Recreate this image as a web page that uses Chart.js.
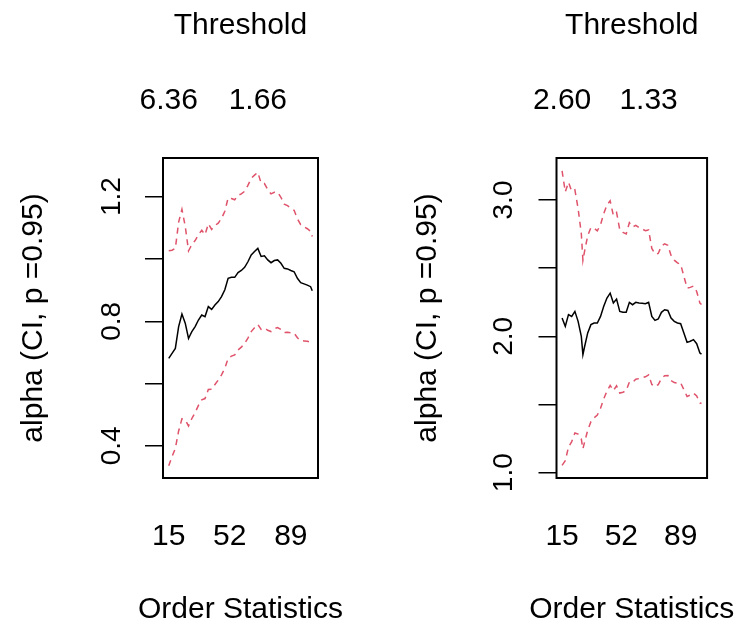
<!DOCTYPE html>
<html>
<head>
<meta charset="utf-8">
<script src="https://cdn.jsdelivr.net/npm/chart.js@4.4.1/dist/chart.umd.min.js"></script>
<style>
  html, body { margin: 0; padding: 0; background: #fff; }
  #wrap { position: relative; width: 745px; height: 632px; background: #fff; }
  #wrap canvas { position: absolute; top: 0; }
</style>
</head>
<body>
<div id="wrap">
  <canvas id="hillLeft" width="372" height="632" style="left:0px"></canvas>
  <canvas id="hillRight" width="373" height="632" style="left:372px"></canvas>
</div>
<script>
// order statistics (number of exceedances) used for the Hill estimates
const orderStats = [15, 17, 19, 21, 23, 25, 27, 28, 29, 31, 33, 35, 37, 39, 41, 43, 45, 47, 49, 51,
  53, 55, 57, 59, 61, 63, 65, 67, 69, 71, 73, 75, 77, 79, 81, 83, 85, 87, 89, 91,
  93, 95, 97, 99, 101, 102];

// left panel: alpha estimate with 95% band
const leftAlpha = [0.681, 0.697, 0.713, 0.783, 0.823, 0.794, 0.745, 0.756, 0.767, 0.783, 0.804, 0.820,
  0.815, 0.847, 0.838, 0.852, 0.863, 0.879, 0.901, 0.938, 0.941, 0.941, 0.956, 0.963, 0.973, 0.991,
  1.013, 1.024, 1.034, 1.008, 1.010, 0.997, 0.988, 0.995, 0.997, 0.986, 0.970, 0.968, 0.963, 0.959,
  0.938, 0.924, 0.920, 0.916, 0.911, 0.898];
const leftUpper = [1.026, 1.028, 1.034, 1.118, 1.159, 1.105, 1.026, 1.036, 1.046, 1.059, 1.078, 1.092,
  1.078, 1.113, 1.095, 1.107, 1.115, 1.130, 1.153, 1.196, 1.194, 1.190, 1.204, 1.209, 1.217, 1.236,
  1.259, 1.269, 1.278, 1.243, 1.242, 1.223, 1.209, 1.214, 1.214, 1.198, 1.176, 1.171, 1.163, 1.156,
  1.129, 1.110, 1.103, 1.097, 1.089, 1.072];
const leftLower = [0.336, 0.366, 0.392, 0.448, 0.487, 0.483, 0.464, 0.476, 0.488, 0.507, 0.530, 0.548,
  0.552, 0.581, 0.582, 0.597, 0.611, 0.628, 0.649, 0.681, 0.688, 0.692, 0.708, 0.717, 0.729, 0.746,
  0.767, 0.779, 0.790, 0.774, 0.778, 0.771, 0.767, 0.776, 0.780, 0.774, 0.764, 0.765, 0.763, 0.762,
  0.747, 0.738, 0.737, 0.736, 0.733, 0.724];

// right panel
const rightAlpha = [2.134, 2.073, 2.159, 2.146, 2.183, 2.110, 2.000, 1.866, 1.922, 2.025, 2.086, 2.098,
  2.098, 2.146, 2.220, 2.281, 2.317, 2.244, 2.273, 2.183, 2.176, 2.176, 2.249, 2.232, 2.249, 2.244,
  2.242, 2.239, 2.249, 2.146, 2.117, 2.127, 2.176, 2.195, 2.190, 2.134, 2.110, 2.098, 2.093, 2.025,
  1.956, 1.964, 1.976, 1.946, 1.878, 1.870];
const rightUpper = [3.214, 3.059, 3.130, 3.064, 3.075, 2.937, 2.754, 2.557, 2.622, 2.738, 2.798, 2.793,
  2.774, 2.819, 2.900, 2.963, 2.994, 2.886, 2.909, 2.782, 2.762, 2.751, 2.833, 2.802, 2.814, 2.798,
  2.787, 2.775, 2.780, 2.645, 2.603, 2.608, 2.662, 2.679, 2.667, 2.593, 2.559, 2.539, 2.528, 2.441,
  2.354, 2.359, 2.369, 2.329, 2.244, 2.233];
const rightLower = [1.054, 1.088, 1.188, 1.228, 1.291, 1.283, 1.246, 1.175, 1.222, 1.312, 1.374, 1.403,
  1.422, 1.473, 1.541, 1.599, 1.640, 1.602, 1.637, 1.584, 1.590, 1.601, 1.665, 1.662, 1.685, 1.690,
  1.697, 1.703, 1.718, 1.647, 1.631, 1.646, 1.690, 1.711, 1.713, 1.675, 1.661, 1.657, 1.658, 1.609,
  1.559, 1.569, 1.583, 1.563, 1.512, 1.507];

// axis ticks and labels
const bottomTicks = [15, 52, 89];
const thresholdTicks = [15, 69];
const leftThresholds = ['6.36', '1.66'];
const rightThresholds = ['2.60', '1.33'];
const leftYTicks = [0.4, 0.6, 0.8, 1.0, 1.2];
const leftYLabels = ['0.4', '', '0.8', '', '1.2'];
const rightYTicks = [1.0, 1.5, 2.0, 2.5, 3.0];
const rightYLabels = ['1.0', '', '2.0', '', '3.0'];

const RED = '#DF536B';
const FAMILY = '"Liberation Sans", Arial, sans-serif';
const FONT = { family: FAMILY, size: 30 };
const TICK_FONT = { family: FAMILY, size: 28 };
const X_MIN = 11.52, X_MAX = 105.48;
const BOX_TOP = 158, BOX_BOTTOM = 478, H = 632;

const pairs = (xs, ys) => xs.map((x, i) => ({ x: x, y: ys[i] }));

// plain box around the plot region
const boxFrame = {
  id: 'boxFrame',
  beforeDatasetsDraw(chart) {
    const { ctx, chartArea: a } = chart;
    ctx.save();
    ctx.strokeStyle = '#000';
    ctx.lineWidth = 2;
    ctx.strokeRect(a.left, a.top, a.right - a.left, a.bottom - a.top);
    ctx.restore();
  }
};

// x axis caption is wider than the plot box, so the scale title would squeeze it
const xCaption = {
  id: 'xCaption',
  afterDraw(chart, args, opts) {
    const { ctx, chartArea: a } = chart;
    ctx.save();
    ctx.fillStyle = '#000';
    ctx.font = FONT.size + 'px ' + FAMILY;
    ctx.textAlign = 'center';
    ctx.textBaseline = 'middle';
    ctx.fillText(opts.text, (a.left + a.right) / 2, opts.y);
    ctx.restore();
  }
};

function hillChart(id, p) {
  const line = (ys, color, dash) => ({
    data: pairs(orderStats, ys),
    borderColor: color,
    borderWidth: 1.5,
    borderDash: dash,
    pointRadius: 0,
    tension: 0,
    fill: false
  });

  return new Chart(document.getElementById(id), {
    type: 'line',
    data: {
      datasets: [
        line(p.alpha, '#000', []),
        line(p.upper, RED, [6, 5]),
        line(p.lower, RED, [6, 5])
      ]
    },
    options: {
      responsive: false,
      animation: false,
      devicePixelRatio: 1,
      layout: { padding: { left: 0, right: p.padRight, top: 0, bottom: 0 } },
      plugins: {
        legend: { display: false },
        tooltip: { enabled: false },
        xCaption: { text: 'Order Statistics', y: 610 }
      },
      scales: {
        x: {
          type: 'linear',
          position: 'bottom',
          min: X_MIN,
          max: X_MAX,
          afterBuildTicks: s => { s.ticks = bottomTicks.map(v => ({ value: v })); },
          afterFit: s => { s.height = H - BOX_BOTTOM; },
          grid: { display: false, drawTicks: false },
          border: { display: false },
          ticks: { autoSkip: false, maxRotation: 0, padding: 41, color: '#000', font: FONT,
                   callback: v => String(v) }
        },
        xTop: {
          type: 'linear',
          position: 'top',
          min: X_MIN,
          max: X_MAX,
          afterBuildTicks: s => { s.ticks = thresholdTicks.map(v => ({ value: v })); },
          afterFit: s => { s.height = BOX_TOP; },
          grid: { display: false, drawTicks: false },
          border: { display: false },
          ticks: { autoSkip: false, maxRotation: 0, padding: 39, color: '#000', font: FONT,
                   callback: (v, i) => p.thresholds[i] },
          title: { display: true, text: 'Threshold', color: '#000', font: FONT,
                   padding: { top: 8, bottom: 0 } }
        },
        y: {
          type: 'linear',
          position: 'left',
          min: p.yMin,
          max: p.yMax,
          afterBuildTicks: s => { s.ticks = p.yTicks.map(v => ({ value: v })); },
          afterFit: s => { s.width = p.boxLeft; },
          grid: { drawOnChartArea: false, drawTicks: true, tickLength: 18, color: '#000', lineWidth: 1.5 },
          border: { display: false },
          ticks: { autoSkip: false, minRotation: 90, maxRotation: 90, crossAlign: 'center',
                   padding: p.yPad, color: '#000', font: TICK_FONT,
                   callback: (v, i) => p.yLabels[i] },
          title: { display: true, text: 'alpha (CI, p =0.95)', color: '#000', font: FONT,
                   padding: { top: p.titlePad, bottom: 0 } }
        }
      }
    },
    plugins: [boxFrame, xCaption]
  });
}

hillChart('hillLeft', {
  alpha: leftAlpha, upper: leftUpper, lower: leftLower,
  thresholds: leftThresholds, yTicks: leftYTicks, yLabels: leftYLabels,
  yMin: 0.297, yMax: 1.324,
  boxLeft: 163, padRight: 54, yPad: 13, titlePad: 16
});

hillChart('hillRight', {
  alpha: rightAlpha, upper: rightUpper, lower: rightLower,
  thresholds: rightThresholds, yTicks: rightYTicks, yLabels: rightYLabels,
  yMin: 0.961, yMax: 3.308,
  boxLeft: 184.5, padRight: 34.5, yPad: 15, titlePad: 38
});
</script>
</body>
</html>
